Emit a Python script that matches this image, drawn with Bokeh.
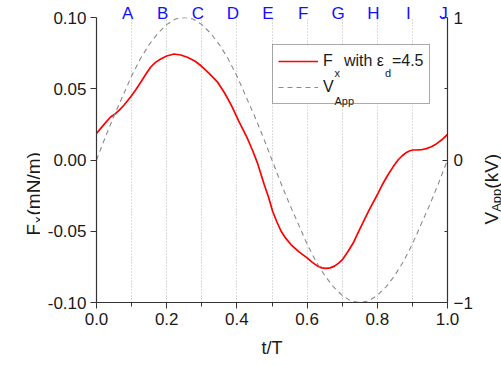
import math

import numpy as np
from bokeh.embed import file_html
from bokeh.layouts import row
from bokeh.models import (BoxAnnotation, ColumnDataSource, FixedTicker, Label,
                          Legend, LegendItem, LinearAxis, PrintfTickFormatter,
                          Range1d)
from bokeh.plotting import figure
from bokeh.resources import INLINE

# Horizontal force F_x (mN/m) for eps_d = 4.5, against t/T
fx_t = [0.000, 0.021, 0.040, 0.054, 0.065, 0.078, 0.097, 0.112, 0.126, 0.140,
        0.154, 0.168, 0.183, 0.200, 0.221, 0.240, 0.259, 0.280, 0.297, 0.320,
        0.345, 0.365, 0.385, 0.405, 0.430, 0.445, 0.459, 0.478, 0.490, 0.502,
        0.514, 0.526, 0.540, 0.554, 0.577, 0.600, 0.615, 0.630, 0.642, 0.654,
        0.666, 0.678, 0.690, 0.702, 0.717, 0.733, 0.745, 0.757, 0.778, 0.800,
        0.815, 0.830, 0.845, 0.859, 0.871, 0.883, 0.893, 0.902, 0.915, 0.926,
        0.940, 0.954, 0.968, 0.983, 1.000]
fx = [0.0186, 0.0248, 0.0302, 0.0325, 0.0350, 0.0384, 0.0442, 0.0493, 0.0546, 0.0600,
      0.0651, 0.0685, 0.0709, 0.0730, 0.0744, 0.0737, 0.0721, 0.0695, 0.0663, 0.0610,
      0.0546, 0.0470, 0.0380, 0.0275, 0.0151, 0.0065, -0.0024, -0.0174, -0.0260, -0.0361,
      -0.0435, -0.0500, -0.0552, -0.0593, -0.0645, -0.0687, -0.0718, -0.0745, -0.0757, -0.0761,
      -0.0757, -0.0745, -0.0724, -0.0695, -0.0640, -0.0575, -0.0512, -0.0450, -0.0345, -0.0244,
      -0.0170, -0.0105, -0.0048, 0.0000, 0.0030, 0.0053, 0.0065, 0.0070, 0.0071, 0.0072,
      0.0080, 0.0093, 0.0113, 0.0140, 0.0179]

# Applied voltage (kV) against t/T
v_t = np.linspace(0.0, 1.0, 41)
v_app = [0.00, 0.16, 0.31, 0.45, 0.59, 0.71, 0.81, 0.89, 0.95, 0.99,
         1.00, 0.99, 0.95, 0.89, 0.81, 0.71, 0.59, 0.45, 0.31, 0.16,
         0.00, -0.16, -0.31, -0.45, -0.59, -0.71, -0.81, -0.89, -0.95, -0.99,
         -1.00, -0.99, -0.95, -0.89, -0.81, -0.71, -0.59, -0.45, -0.31, -0.16,
         0.00]

# Phase markers along the top
phase_letters = ["A", "B", "C", "D", "E", "F", "G", "H", "I", "J"]
phase_t = [0.1, 0.2, 0.3, 0.4, 0.5, 0.6, 0.7, 0.8, 0.9, 1.0]

# Axis ticks
x_major = [0.0, 0.2, 0.4, 0.6, 0.8, 1.0]
x_minor = [0.1, 0.3, 0.5, 0.7, 0.9]
y_major = [-0.10, -0.05, 0.00, 0.05, 0.10]
v_major = [-1, 0, 1]
v_minor = [-0.5, 0.5]

FONT = "Liberation Sans"
TXT = "#1a1a1a"
AXC = "#333333"

H = 366
LEFT_W, RIGHT_W = 40, 26
MAIN_W = 501 - LEFT_W - RIGHT_W
# frame placement inside the whole page
F_LEFT, F_RIGHT, F_TOP, F_BOTTOM = 96, 447, 15, 302


def fr(cx, cy):
    """page pixel -> position relative to the main frame's bottom-left"""
    return cx - F_LEFT, F_BOTTOM - cy


p = figure(width=MAIN_W, height=H,
           x_range=Range1d(0, 1), y_range=Range1d(-0.1, 0.1),
           output_backend="svg", toolbar_location=None,
           min_border_left=F_LEFT - LEFT_W,
           min_border_right=501 - RIGHT_W - F_RIGHT,
           min_border_top=F_TOP, min_border_bottom=H - F_BOTTOM)
p.outline_line_color = None
p.background_fill_color = "white"
p.border_fill_color = "white"

p.extra_y_ranges = {"v": Range1d(-1, 1)}
# phase letters sit a few pixels left of their guide lines
shift = 4 / (F_RIGHT - F_LEFT)
p.extra_x_ranges = {"top": Range1d(shift, 1 + shift)}

# dotted vertical guides at the phase markers
p.ygrid.visible = False
p.xgrid.ticker = FixedTicker(ticks=phase_t[:-1])
p.xgrid.grid_line_color = "#b8b8b8"
p.xgrid.grid_line_dash = "1 2"
p.xgrid.grid_line_width = 1


def style_axis(ax):
    ax.axis_line_color = AXC
    ax.axis_line_width = 1.2
    ax.major_tick_line_color = AXC
    ax.minor_tick_line_color = AXC
    ax.major_label_text_font = FONT
    ax.major_label_text_font_size = "17px"
    ax.major_label_text_color = TXT
    ax.axis_label_text_font = FONT
    ax.axis_label_text_font_style = "normal"
    ax.axis_label_text_font_size = "18px"
    ax.axis_label_text_color = TXT


xa = p.xaxis[0]
style_axis(xa)
xa.ticker = FixedTicker(ticks=x_major, minor_ticks=x_minor)
xa.formatter = PrintfTickFormatter(format="%.1f")
xa.major_tick_out = 6
xa.major_tick_in = 0
xa.minor_tick_out = 4
xa.minor_tick_in = 0
xa.major_label_standoff = 4
xa.axis_label = "t/T"
xa.axis_label_standoff = 10

ya = p.yaxis[0]
style_axis(ya)
ya.ticker = FixedTicker(ticks=y_major, minor_ticks=[])
ya.formatter = PrintfTickFormatter(format="%.2f")
ya.major_tick_out = 6
ya.major_tick_in = 0
ya.major_label_standoff = 4

va = LinearAxis(y_range_name="v",
                ticker=FixedTicker(ticks=v_major, minor_ticks=v_minor))
style_axis(va)
va.major_tick_in = 5
va.major_tick_out = 0
va.minor_tick_in = 3
va.minor_tick_out = 0
va.major_label_standoff = 6
p.add_layout(va, "right")

# phase letters along the top edge
ta = LinearAxis(x_range_name="top",
                ticker=FixedTicker(ticks=phase_t, minor_ticks=[]),
                major_label_overrides=dict(zip(phase_t, phase_letters)))
ta.axis_line_color = None
ta.major_tick_line_color = None
ta.minor_tick_line_color = None
ta.major_tick_out = 0
ta.major_tick_in = 0
ta.major_label_standoff = -5
ta.major_label_text_font = FONT
ta.major_label_text_font_size = "17px"
ta.major_label_text_color = "#1010ff"
p.add_layout(ta, "above")

# white panel behind the legend (the legend itself is drawn unfilled so the
# subscripts placed over it stay visible)
lx0, ly1 = fr(272, 104)
lx1, ly0 = fr(440, 46)
p.add_layout(BoxAnnotation(left=lx0, right=lx1, bottom=ly1, top=ly0,
                           left_units="screen", right_units="screen",
                           top_units="screen", bottom_units="screen",
                           fill_color="white", fill_alpha=1.0,
                           line_color=None, level="underlay"))

src_f = ColumnDataSource(dict(t=fx_t, fx=fx))
src_v = ColumnDataSource(dict(t=v_t, v=v_app))
r_f = p.line("t", "fx", source=src_f, line_color="#ff0000", line_width=1.7)
r_v = p.line("t", "v", source=src_v, y_range_name="v", line_color="#8a8a8a",
             line_width=1.1, line_dash="5 4")

legend = Legend(items=[LegendItem(label="F\u2005\u2006 with \u03b5\u2002=4.5", renderers=[r_f]),
                       LegendItem(label="V", renderers=[r_v])],
                location=fr(272, 104), padding=5, spacing=4,
                glyph_width=40, glyph_height=22, label_height=22,
                label_standoff=5, margin=0,
                label_text_font=FONT, label_text_font_size="16px",
                label_text_color=TXT,
                border_line_color="#555555", border_line_width=1,
                background_fill_alpha=0)
p.add_layout(legend)


def text_label(fig, txt, x, y, size, angle=0.0):
    fig.add_layout(Label(x=x, y=y, x_units="screen", y_units="screen",
                         text=txt, angle=angle, text_align="left",
                         text_baseline="alphabetic", text_font=FONT,
                         text_font_size=size, text_color=TXT))


# subscripts inside the legend
for txt, cx, cy in [("x", 334, 72), ("d", 384.5, 72), ("App", 334, 100)]:
    text_label(p, txt, *fr(cx, cy), "11px")


def side_strip(width):
    f = figure(frame_width=width, frame_height=H, x_range=Range1d(0, width),
               y_range=Range1d(0, H), x_axis_type=None, y_axis_type=None,
               output_backend="svg", toolbar_location=None,
               min_border=0, min_border_left=0, min_border_right=0,
               min_border_top=0, min_border_bottom=0)
    f.outline_line_color = None
    f.background_fill_color = "white"
    f.border_fill_color = "white"
    f.grid.visible = False
    return f


up = math.pi / 2

# rotated title for the force axis: F_x(mN/m)
left = side_strip(LEFT_W)
for txt, cx, cy, size in [("F", 33, 218, "19px"), ("x", 37.5, 205.5, "13px"),
                          ("(mN/m)", 33, 198, "19px")]:
    text_label(left, txt, cx, H - cy, size, up)

# rotated title for the voltage axis: V_App(kV)
right = side_strip(RIGHT_W)
x0 = 501 - RIGHT_W
for txt, cx, cy, size in [("V", 491, 207, "19px"), ("App", 495.5, 194.3, "13px"),
                          ("(kV)", 491, 171.2, "19px")]:
    text_label(right, txt, cx - x0, H - cy, size, up)

layout = row(left, p, right)
open("out.html", "w").write(file_html(layout, INLINE))
